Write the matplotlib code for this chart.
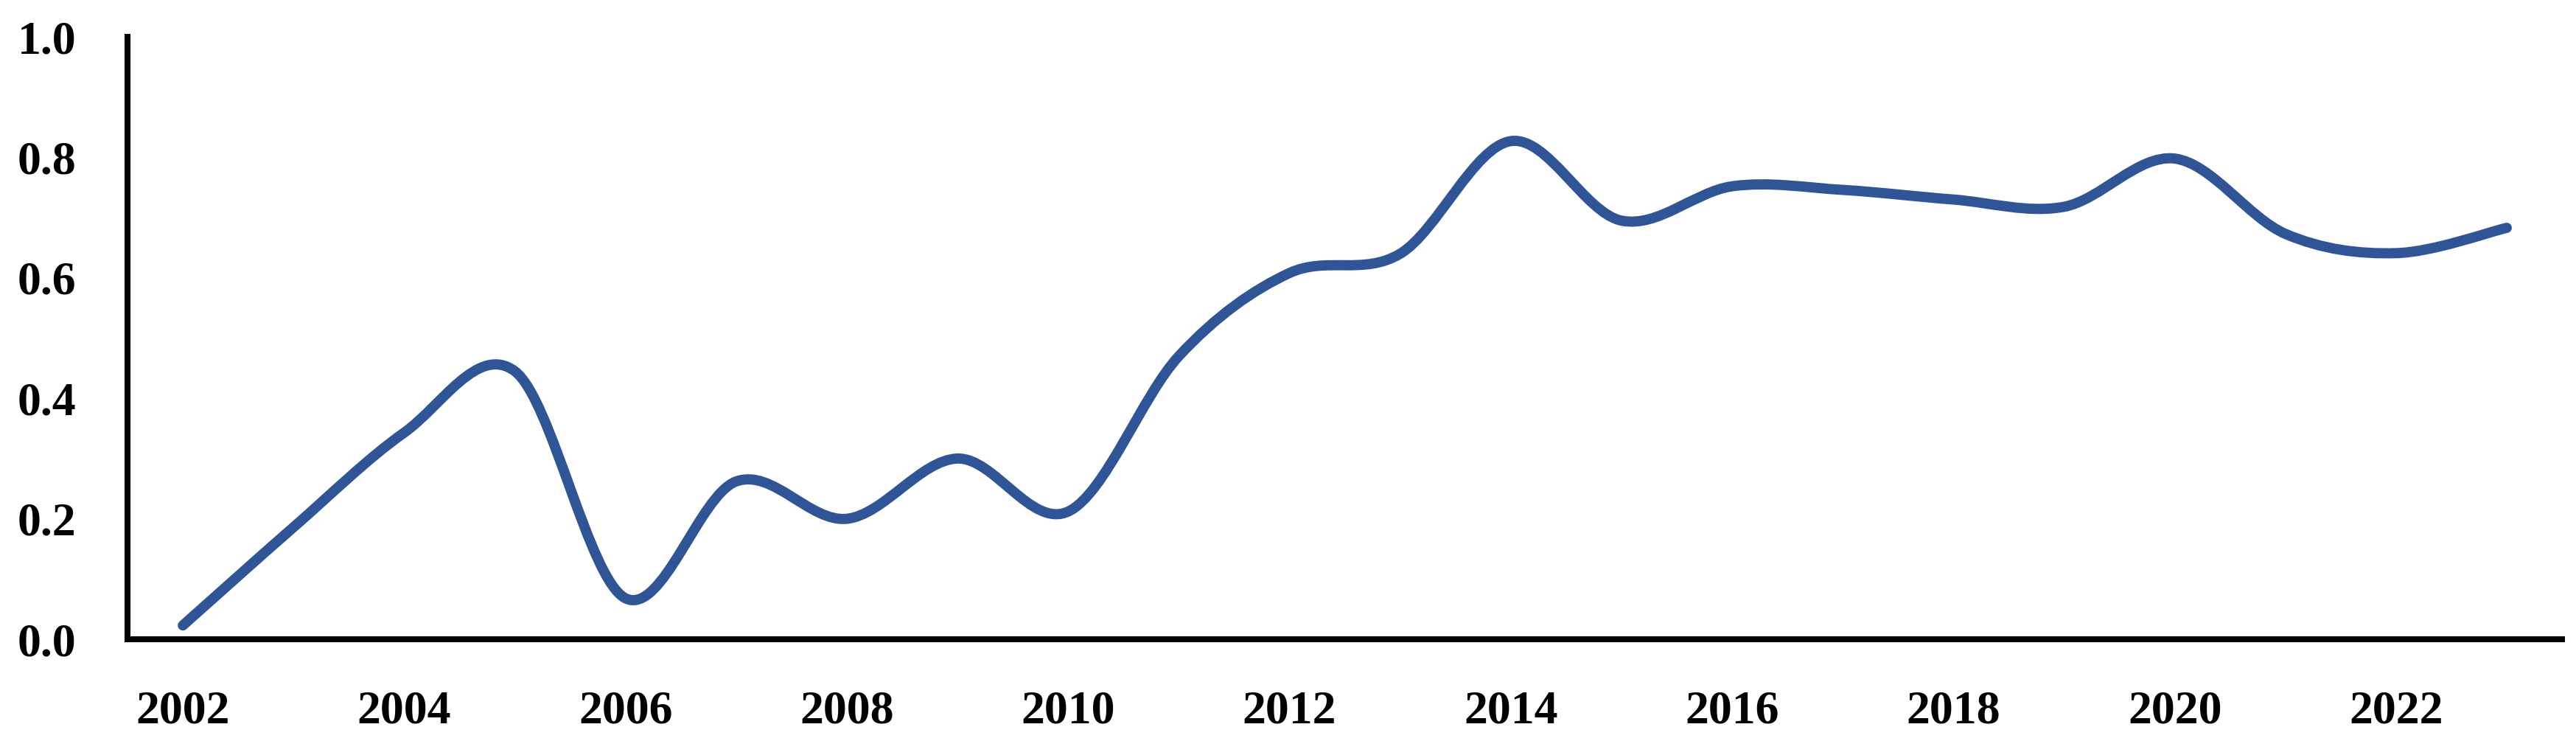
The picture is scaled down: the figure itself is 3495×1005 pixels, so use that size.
import numpy as np
import matplotlib
matplotlib.use("Agg")
import matplotlib.pyplot as plt
from matplotlib.path import Path
from matplotlib.patches import PathPatch

# values
years = list(range(2002, 2024))
values = [0.023, 0.186, 0.343, 0.445, 0.068, 0.262, 0.200, 0.300, 0.212, 0.470,
          0.608, 0.640, 0.827, 0.695, 0.752, 0.746, 0.730, 0.718, 0.798, 0.673,
          0.641, 0.683]
x_ticks = list(range(2002, 2024, 2))
y_ticks = [0.0, 0.2, 0.4, 0.6, 0.8, 1.0]

line_colour = "#2F5597"

plt.rcParams["font.family"] = ["Liberation Serif", "DejaVu Serif"]
plt.rcParams["font.weight"] = "bold"


def smooth_path(xs, ys):
    # excel-style smoothed line: catmull-rom tangents turned into bezier segments
    pts = np.column_stack([xs, ys]).astype(float)
    n = len(pts)
    verts = [pts[0]]
    codes = [Path.MOVETO]
    for i in range(n - 1):
        p0 = pts[i - 1] if i > 0 else pts[i]
        p1 = pts[i]
        p2 = pts[i + 1]
        p3 = pts[i + 2] if i + 2 < n else pts[i + 1]
        c1 = p1 + (p2 - p0) / 6.0
        c2 = p2 - (p3 - p1) / 6.0
        verts += [c1, c2, p2]
        codes += [Path.CURVE4] * 3
    return Path(verts, codes)


fig = plt.figure(figsize=(34.95, 10.05), dpi=100)
ax = fig.add_axes([0.0495, 0.1373, 0.9451, 0.8129])

patch = PathPatch(smooth_path(years, values), facecolor="none",
                  edgecolor=line_colour, linewidth=10, capstyle="round",
                  joinstyle="round")
ax.add_patch(patch)

ax.set_xlim(2001.5, 2023.5)
ax.set_ylim(0, 1.0)
ax.set_xticks(x_ticks)
ax.set_xticklabels([str(y) for y in x_ticks])
ax.set_yticks(y_ticks)
ax.set_yticklabels(["%.1f" % v for v in y_ticks])

for side in ["top", "right"]:
    ax.spines[side].set_visible(False)
for side in ["left", "bottom"]:
    ax.spines[side].set_linewidth(5.8)
    ax.spines[side].set_color("black")
    ax.spines[side].set_capstyle("projecting")

ax.tick_params(axis="both", length=0, labelsize=46, colors="black")
ax.tick_params(axis="x", pad=50)
ax.tick_params(axis="y", pad=50)

fig.savefig("out.png", dpi=100, facecolor="white")
